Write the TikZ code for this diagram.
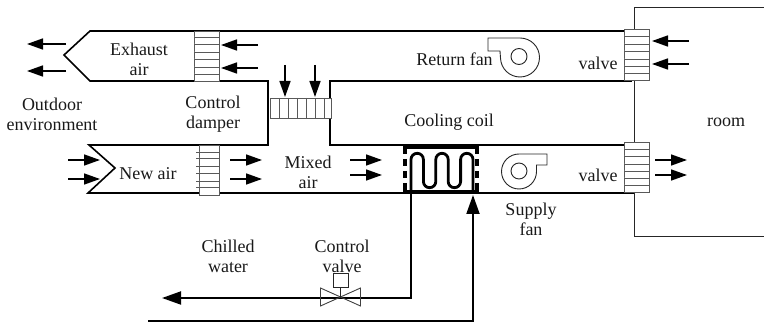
\documentclass[tikz,border=0pt]{standalone}
\usepackage{fontspec}
\setmainfont{Liberation Serif}
\usetikzlibrary{arrows.meta}
\tikzset{
  duct/.style={line width=1.6pt,black,line join=miter},
  thinline/.style={line width=0.9pt,black!85},
  damper/.style={line width=0.9pt,black!65,fill=white},
  flow/.style={line width=1.5pt,-{Triangle[length=16pt,width=11pt]}},
  pipe/.style={line width=1.9pt},
  pipearrow/.style={pipe,-{Triangle[length=19pt,width=13pt]}},
  label/.style={font=\fontsize{18}{20}\selectfont,align=center,inner sep=0pt,text=black!90},
  coilframe/.style={line width=3.6pt},
  coilside/.style={line width=3.6pt,dash pattern=on 7pt off 5pt},
  coiltube/.style={line width=2.8pt}
}
\newcommand{\flowarrow}[5]{%
  \coordinate (#1-a) at (#2,#3); \coordinate (#1-b) at (#4,#5);
  \draw[flow] (#1-a) -- (#1-b);}
\begin{document}
\begin{tikzpicture}[x=1pt,y=-1pt]
\useasboundingbox (0,0) rectangle (764,323);
% ducts
\draw[duct] (624,31) -- (90,31) -- (64,55) -- (90,81) -- (268,81) -- (268,145) -- (89,145) -- (115,168) -- (88,193) -- (634,193);
\draw[duct] (632,81) -- (330,81) -- (330,145) -- (624,145);
% room
\draw[thinline] (764,7) -- (634,7) -- (634,29);
\draw[thinline] (634,80) -- (634,142);
\draw[thinline] (634,192) -- (634,236) -- (764,236);
% exhaust damper
\draw[damper] (194,31) rectangle (219,81);
\foreach \y in {37,44,52,59,67,74} \draw[damper] (194,\y) -- (219,\y);
% new air damper
\draw[damper] (199,145) rectangle (219,195);
\foreach \y in {152,158,166,173,181,187} \draw[damper] (196,\y) -- (219,\y);
% mixing damper
\draw[damper] (270,98) rectangle (331,118);
\foreach \x in {279,288,297,306,315,324} \draw[damper] (\x,98) -- (\x,118);
% room valves
\draw[damper] (624,29) rectangle (649,80);
\foreach \y in {36,44,51,59,66,73} \draw[damper] (624,\y) -- (649,\y);
\draw[damper] (624,142) rectangle (649,192);
\foreach \y in {149,156,164,171,178,185} \draw[damper] (624,\y) -- (649,\y);
% flow arrows
\flowarrow{e1}{66}{44}{27}{44}
\flowarrow{e2}{66}{71}{27}{71}
\flowarrow{r1}{258}{45}{221}{45}
\flowarrow{r2}{258}{68}{221}{68}
\flowarrow{d1}{285}{65}{285}{97}
\flowarrow{d2}{315}{65}{315}{97}
\flowarrow{n1}{68}{160}{100}{160}
\flowarrow{n2}{68}{179}{100}{179}
\flowarrow{m1}{230}{160}{262}{160}
\flowarrow{m2}{230}{179}{262}{179}
\flowarrow{c1}{350}{160}{382}{160}
\flowarrow{c2}{350}{175}{382}{175}
\flowarrow{v1}{689}{41}{652}{41}
\flowarrow{v2}{689}{64}{652}{64}
\flowarrow{s1}{655}{160}{687}{160}
\flowarrow{s2}{655}{175}{687}{175}
% return fan
\draw[thinline] (488,38) -- (520,38) arc[start angle=-90,end angle=178,radius=19.5] -- (500,51) -- (488,51) -- cycle;
\draw[thinline] (519,56.5) circle[radius=8];
% supply fan
\draw[thinline] (547,154) -- (519,154) arc[start angle=-90,end angle=-270,radius=17.5] arc[start angle=90,end angle=0,radius=17.5] -- (536.5,165) -- (547,165) -- cycle;
\draw[thinline] (519,171) circle[radius=8];
% cooling coil
\draw[coilframe] (403,147) -- (479,147);
\draw[coilframe] (403,192) -- (479,192);
\draw[coilside] (405,147) -- (405,193);
\draw[coilside] (477,147) -- (477,193);
\coordinate (coilin) at (411,192);
\coordinate (coilout) at (473,192);
\draw[coiltube] (coilin) -- (411,159.5) arc[start angle=180,end angle=360,radius=6.2] -- (423.4,181.5) arc[start angle=180,end angle=0,radius=6.2] -- (435.8,159.5) arc[start angle=180,end angle=360,radius=6.2] -- (448.2,181.5) arc[start angle=180,end angle=0,radius=6.2] -- (460.6,159.5) arc[start angle=180,end angle=360,radius=6.2] -- (coilout);
% control valve
\node[draw,thinline,minimum width=15pt,minimum height=14pt,inner sep=0pt] (act) at (340.5,280) {};
\coordinate (vc) at (340.5,298);
\coordinate (chw-out) at (162,298);
\coordinate (chw-in) at (148,321);
\coordinate (chw-corner1) at (411,298);
\coordinate (chw-corner2) at (473,321);
\draw[pipe] (coilin) -- (chw-corner1) -- (vc);
\draw[pipearrow] (vc) -- (chw-out);
\draw[pipearrow] (chw-in) -- (chw-corner2) -- (473,195);
\draw[line width=0.9pt,black!75] (320.5,288) -- (360.5,306) -- (360.5,288) -- (320.5,306) -- cycle;
\draw[thinline] (act.south) -- (vc);
% labels
\node[label] (t1) at (139,59) {Exhaust\\air};
\node[label] (t2) at (52,114.5) {Outdoor\\environment};
\node[label] (t3) at (213,114.5) {Control\\damper};
\node[label] (t4) at (148,174) {New air};
\node[label] (t5) at (308,172) {Mixed\\air};
\node[label] (t6) at (454.5,59.5) {Return fan};
\node[label] (t7) at (598,63) {valve};
\node[label] (t8) at (449,122.5) {Cooling coil};
\node[label] (t9) at (726,122) {room};
\node[label] (t10) at (598,175) {valve};
\node[label] (t11) at (531,219.5) {Supply\\fan};
\node[label] (t12) at (228,256.5) {Chilled\\water};
\node[label] (t13) at (342,256.5) {Control\\valve};
\end{tikzpicture}
\end{document}
